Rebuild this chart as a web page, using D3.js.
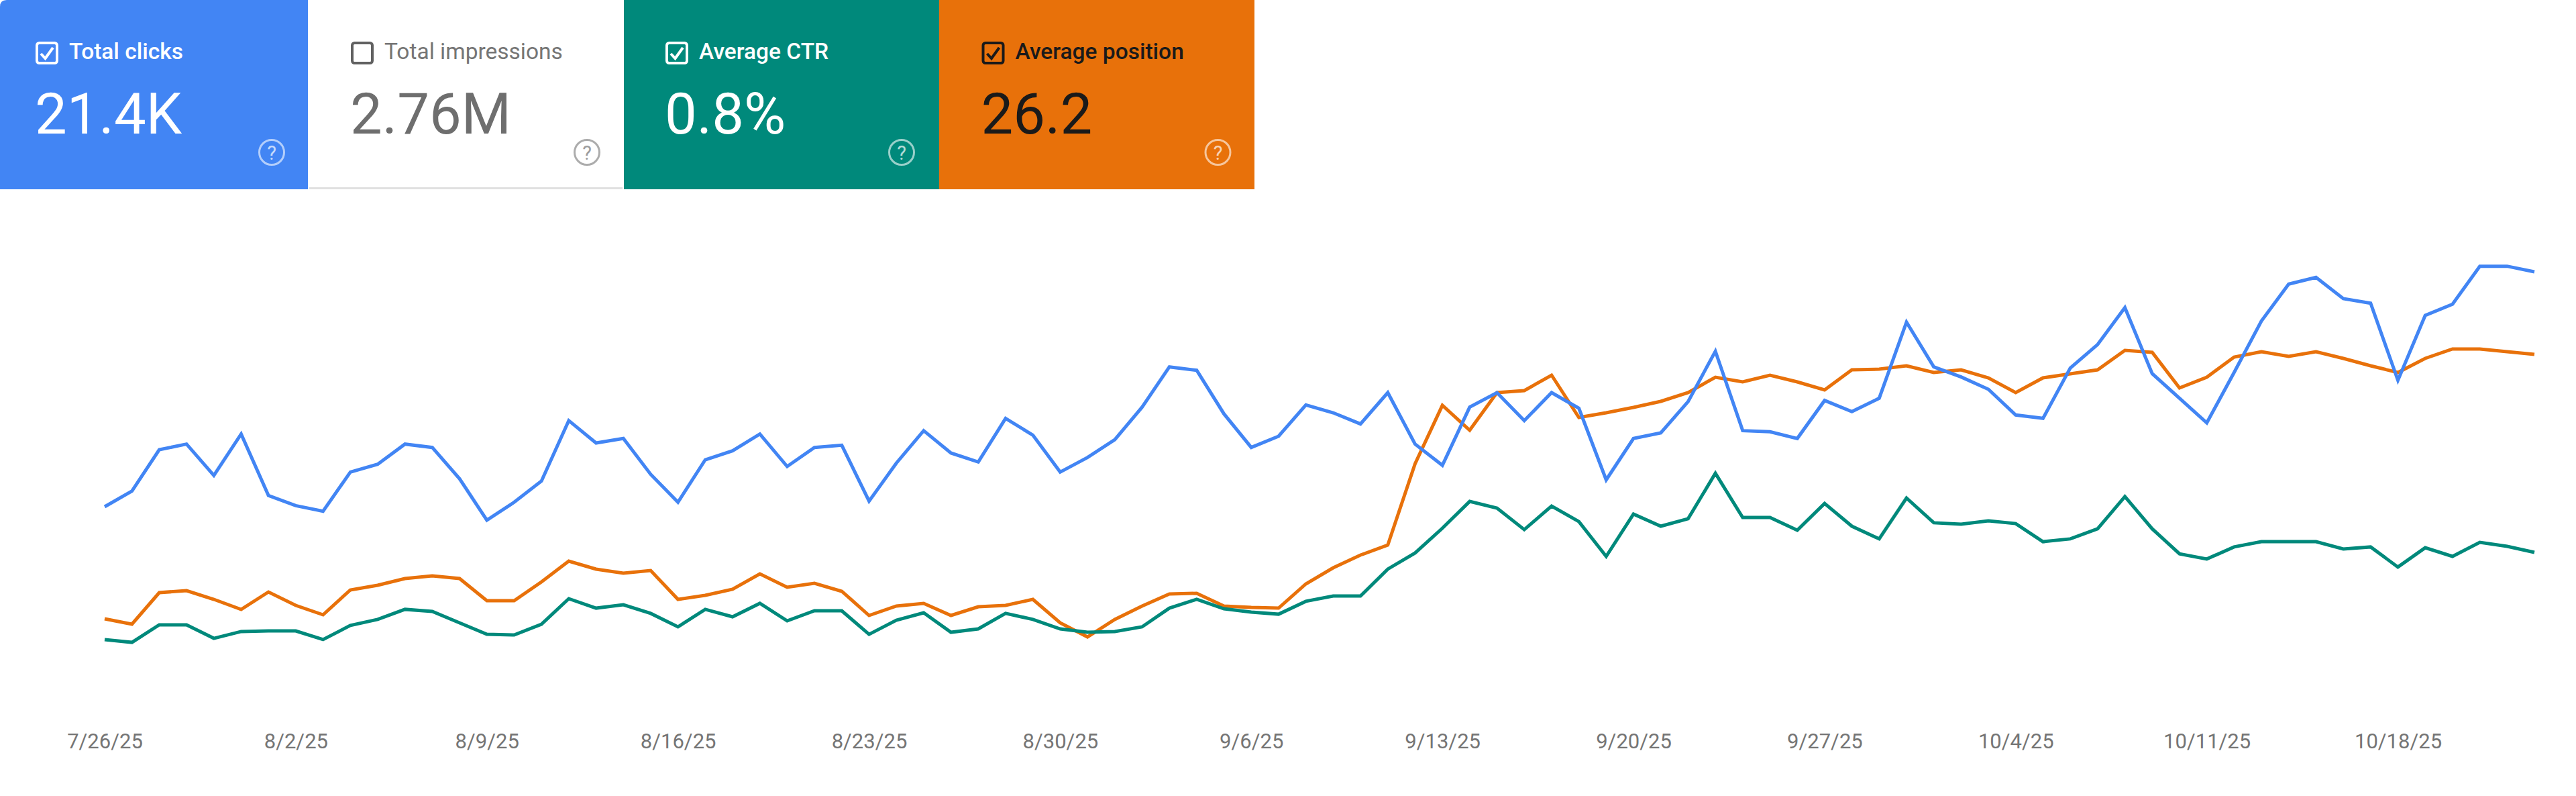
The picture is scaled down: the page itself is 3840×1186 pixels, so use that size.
<!DOCTYPE html>
<html><head><meta charset="utf-8">
<style>html,body{margin:0;padding:0;background:#fff;overflow:hidden}svg{display:block}text{font-family:Roboto,sans-serif}</style>
<script src="https://cdn.jsdelivr.net/npm/d3@7/dist/d3.min.js"></script>
</head><body>
<script>
const tickLabels=["7/26/25","8/2/25","8/9/25","8/16/25","8/23/25","8/30/25","9/6/25","9/13/25","9/20/25","9/27/25","10/4/25","10/11/25","10/18/25"];
const metricNames=["Total clicks","Total impressions","Average CTR","Average position"];
const metricValues=["21.4K","2.76M","0.8%","26.2"];
const metricChecked=[true,false,true,true];
const clicks=[183,197,234,239,211,248,193,184,179,214,221,239,236,208,171,187,206,260,240,244,212,187,225,233,248,219,236,238,188,222,251,231,223,262,247,214,227,243,272,308,305,266,236,246,274,267,257,285,239,220,272,285,260,285,271,207,244,249,277,322,251,250,244,278,268,280,348,308,299,288,265,262,307,328,361,302,280,258,303,349,382,388,369,365,296,354,364,398,398,393];
const ctr=[0.357,0.343,0.430,0.430,0.363,0.397,0.400,0.400,0.357,0.427,0.457,0.507,0.497,0.440,0.383,0.380,0.433,0.560,0.513,0.530,0.487,0.420,0.507,0.470,0.537,0.450,0.500,0.500,0.383,0.453,0.490,0.393,0.410,0.487,0.457,0.410,0.393,0.397,0.420,0.513,0.557,0.510,0.493,0.483,0.547,0.573,0.573,0.707,0.787,0.910,1.043,1.010,0.903,1.020,0.943,0.770,0.980,0.920,0.957,1.183,0.963,0.963,0.900,1.033,0.920,0.857,1.060,0.937,0.930,0.947,0.933,0.843,0.857,0.907,1.067,0.907,0.783,0.757,0.817,0.843,0.843,0.843,0.807,0.817,0.717,0.813,0.770,0.840,0.820,0.790];
const position=[34.08,34.40,32.52,32.40,32.92,33.52,32.48,33.28,33.84,32.36,32.08,31.68,31.52,31.68,33.00,33.00,31.88,30.64,31.12,31.36,31.20,32.92,32.68,32.32,31.40,32.20,31.96,32.44,33.88,33.32,33.16,33.88,33.36,33.28,32.92,34.32,35.16,34.12,33.32,32.60,32.56,33.32,33.40,33.44,32.00,31.04,30.28,29.68,24.84,21.36,22.84,20.60,20.48,19.56,22.08,21.80,21.48,21.12,20.60,19.68,19.96,19.56,19.96,20.44,19.24,19.20,19.00,19.40,19.24,19.72,20.60,19.72,19.48,19.24,18.08,18.20,20.32,19.68,18.48,18.16,18.44,18.16,18.56,19.00,19.40,18.56,18.00,18.00,18.16,18.32];

const W=3840,H=1186;
const svg=d3.select("body").append("svg").attr("width",W).attr("height",H);
const cardStyles=[
 {x:0,w:459,ox:-11,bg:"#4285f4",label:"#fff",value:"#fff",box:"#fff",help:"#fff",weight:500},
 {x:459,w:471,ox:459,bg:"#fff",label:"#757575",value:"#6e6e6e",box:"#616161",help:"#757575",weight:400},
 {x:930,w:470,ox:928,bg:"#00897b",label:"#fff",value:"#fff",box:"#fff",help:"#fff",weight:500},
 {x:1400,w:470,ox:1399.5,bg:"#e8710a",label:"#1a1a1a",value:"#1a1a1a",box:"#1a1a1a",help:"#fff",weight:500}
];
const cards=svg.selectAll("g.card").data(cardStyles).join("g").attr("class","card");
cards.append("path").attr("fill",d=>d.bg).attr("d",(d,i)=>i===0
  ?`M0 10Q0 0 10 0H${d.w}V282H0Z`:`M${d.x} 0H${d.x+d.w}V282H${d.x}Z`);
cards.filter((d,i)=>i===1).append("rect").attr("x",d=>d.x+2).attr("y",279).attr("width",d=>d.w-4).attr("height",3).attr("fill","#e0e0e0");
const rowY=62;
cards.append("rect").attr("x",d=>d.ox+64+2).attr("y",rowY+2).attr("width",30).attr("height",30).attr("rx",3.5)
  .attr("fill","none").attr("stroke",d=>d.box).attr("stroke-width",4);
cards.filter((d,i)=>metricChecked[i]).append("path")
  .attr("d",d=>`M${d.ox+72} ${rowY+18}L${d.ox+78.5} ${rowY+25}L${d.ox+90} ${rowY+9}`)
  .attr("fill","none").attr("stroke",d=>d.box).attr("stroke-width",4);
cards.append("text").attr("x",d=>d.ox+114).attr("y",88).attr("font-size",33.5).attr("font-weight",d=>d.weight)
  .attr("fill",d=>d.label).text((d,i)=>metricNames[i]);
cards.append("text").attr("x",d=>d.ox+63).attr("y",199).attr("font-size",85).attr("font-weight",400)
  .attr("fill",d=>d.value).text((d,i)=>metricValues[i]);
cards.append("circle").attr("cx",d=>d.ox+416).attr("cy",227).attr("r",18.5).attr("fill","none")
  .attr("stroke",d=>d.help).attr("stroke-width",3).attr("opacity",.6);
cards.append("text").attr("x",d=>d.ox+416).attr("y",238).attr("text-anchor","middle").attr("font-size",29)
  .attr("fill",d=>d.help).attr("opacity",.7).text("?");

const startDay=new Date(Date.UTC(2025,6,26));
const days=clicks.map((_,i)=>d3.utcDay.offset(startDay,i));
const x=d3.scaleUtc().domain([days[0],days[days.length-1]]).range([156,3778]);
const yClicks=d3.scaleLinear().domain([0,636]).range([1060,0]);
const yCtr=d3.scaleLinear().domain([0,3.5333]).range([1060,0]);
const yPos=d3.scaleLinear().domain([0,44]).range([70,1170]);
const series=[
 {vals:position,y:yPos,color:"#e8710a"},
 {vals:ctr,y:yCtr,color:"#00897b"},
 {vals:clicks,y:yClicks,color:"#4285f4"}
];
series.forEach(s=>{
  const line=d3.line().x((d,i)=>x(days[i])).y(d=>s.y(d));
  svg.append("path").datum(s.vals).attr("d",line).attr("fill","none").attr("stroke",s.color)
    .attr("stroke-width",5).attr("stroke-linejoin","miter");
});
const tickDates=tickLabels.map((_,i)=>d3.utcDay.offset(startDay,i*7));
const axis=d3.axisBottom(x).tickValues(tickDates).tickSize(0).tickPadding(0).tickFormat((d,i)=>tickLabels[i]);
const ax=svg.append("g").attr("transform","translate(0,1093)").call(axis);
ax.select(".domain").remove();
ax.selectAll("text").attr("font-size",31).attr("font-family","Roboto,sans-serif").attr("fill","#757575");
</script>
</body></html>
